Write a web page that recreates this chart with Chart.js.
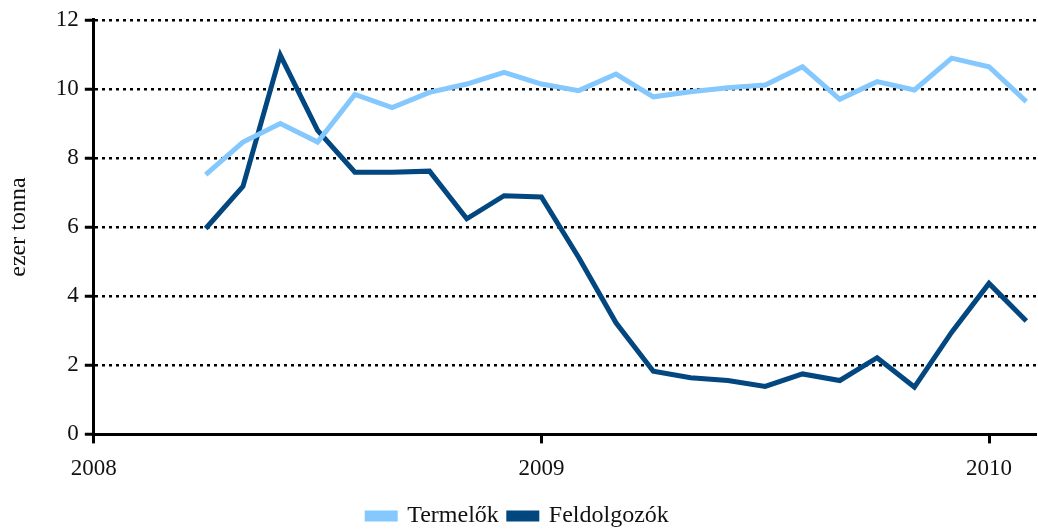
<!DOCTYPE html>
<html>
<head>
<meta charset="utf-8">
<script src="https://cdn.jsdelivr.net/npm/chart.js@4/dist/chart.umd.min.js"></script>
<style>
  html, body { margin: 0; padding: 0; background: #fff; }
  #wrap { width: 1038px; height: 530px; }
</style>
</head>
<body>
<div id="wrap"><canvas id="chart"></canvas></div>
<script>
// Months (Apr 2008 - Feb 2010)
const months = [
  "2008-04", "2008-05", "2008-06", "2008-07", "2008-08", "2008-09", "2008-10", "2008-11", "2008-12",
  "2009-01", "2009-02", "2009-03", "2009-04", "2009-05", "2009-06", "2009-07", "2009-08", "2009-09",
  "2009-10", "2009-11", "2009-12", "2010-01", "2010-02"
];

// ezer tonna
const termelok = [7.52, 8.46, 9.0, 8.46, 9.84, 9.46, 9.9, 10.14, 10.48, 10.14, 9.95, 10.43,
  9.77, 9.92, 10.03, 10.11, 10.64, 9.7, 10.21, 9.97, 10.89, 10.64, 9.63];
const feldolgozok = [5.96, 7.18, 10.98, 8.8, 7.59, 7.59, 7.62, 6.24, 6.91, 6.87, 5.12, 3.23,
  1.83, 1.64, 1.56, 1.39, 1.75, 1.56, 2.22, 1.37, 2.96, 4.37, 3.28];

const yearTicks = [2008, 2009, 2010];
const seriesNames = ["Termelők", "Feldolgozók"];

// month string -> decimal year
function toYear(m) {
  const parts = m.split("-");
  return Number(parts[0]) + (Number(parts[1]) - 1) / 12;
}

function points(values) {
  return values.map(function(v, i) {
    return { x: toYear(months[i]), y: v };
  });
}

const font = "'Liberation Serif', 'DejaVu Serif', serif";

new Chart(document.getElementById("chart"), {
  type: "line",
  data: {
    datasets: [
      {
        label: seriesNames[0],
        data: points(termelok),
        borderColor: "#85c8fd",
        backgroundColor: "#85c8fd",
        borderWidth: 5,
        pointRadius: 0,
        tension: 0
      },
      {
        label: seriesNames[1],
        data: points(feldolgozok),
        borderColor: "#02477f",
        backgroundColor: "#02477f",
        borderWidth: 5,
        pointRadius: 0,
        tension: 0
      }
    ]
  },
  options: {
    responsive: true,
    maintainAspectRatio: false,
    animation: false,
    layout: { padding: { top: 9, right: 2, left: 0, bottom: -8 } },
    plugins: {
      legend: {
        position: "bottom",
        labels: {
          font: { family: font, size: 24 },
          color: "#111",
          boxWidth: 28,
          boxHeight: 6,
          padding: 10
        }
      },
      tooltip: { enabled: false }
    },
    scales: {
      x: {
        type: "linear",
        min: 2008,
        max: 2010.105,
        afterBuildTicks: function(scale) {
          scale.ticks = yearTicks.map(function(v) { return { value: v }; });
        },
        afterFit: function(scale) {
          scale.height -= 1;
        },
        grid: {
          drawOnChartArea: false,
          drawTicks: true,
          tickLength: 9,
          tickWidth: 3,
          tickColor: "#000"
        },
        border: { display: true, color: "#000", width: 3 },
        ticks: {
          font: { family: font, size: 23 },
          color: "#111",
          padding: 12,
          maxRotation: 0,
          callback: function(v) { return String(v); }
        }
      },
      y: {
        min: 0,
        max: 12,
        ticks: {
          stepSize: 2,
          font: { family: font, size: 23 },
          color: "#111",
          padding: 6
        },
        grid: {
          color: "#000",
          lineWidth: 2.5,
          drawTicks: true,
          tickLength: 9,
          tickWidth: 3,
          tickColor: "#000",
          tickBorderDash: []
        },
        border: { display: true, color: "#000", width: 3, dash: [3, 4] },
        title: {
          display: true,
          text: "ezer tonna",
          font: { family: font, size: 24 },
          color: "#111",
          padding: { bottom: 17 }
        }
      }
    }
  }
});
</script>
</body>
</html>
